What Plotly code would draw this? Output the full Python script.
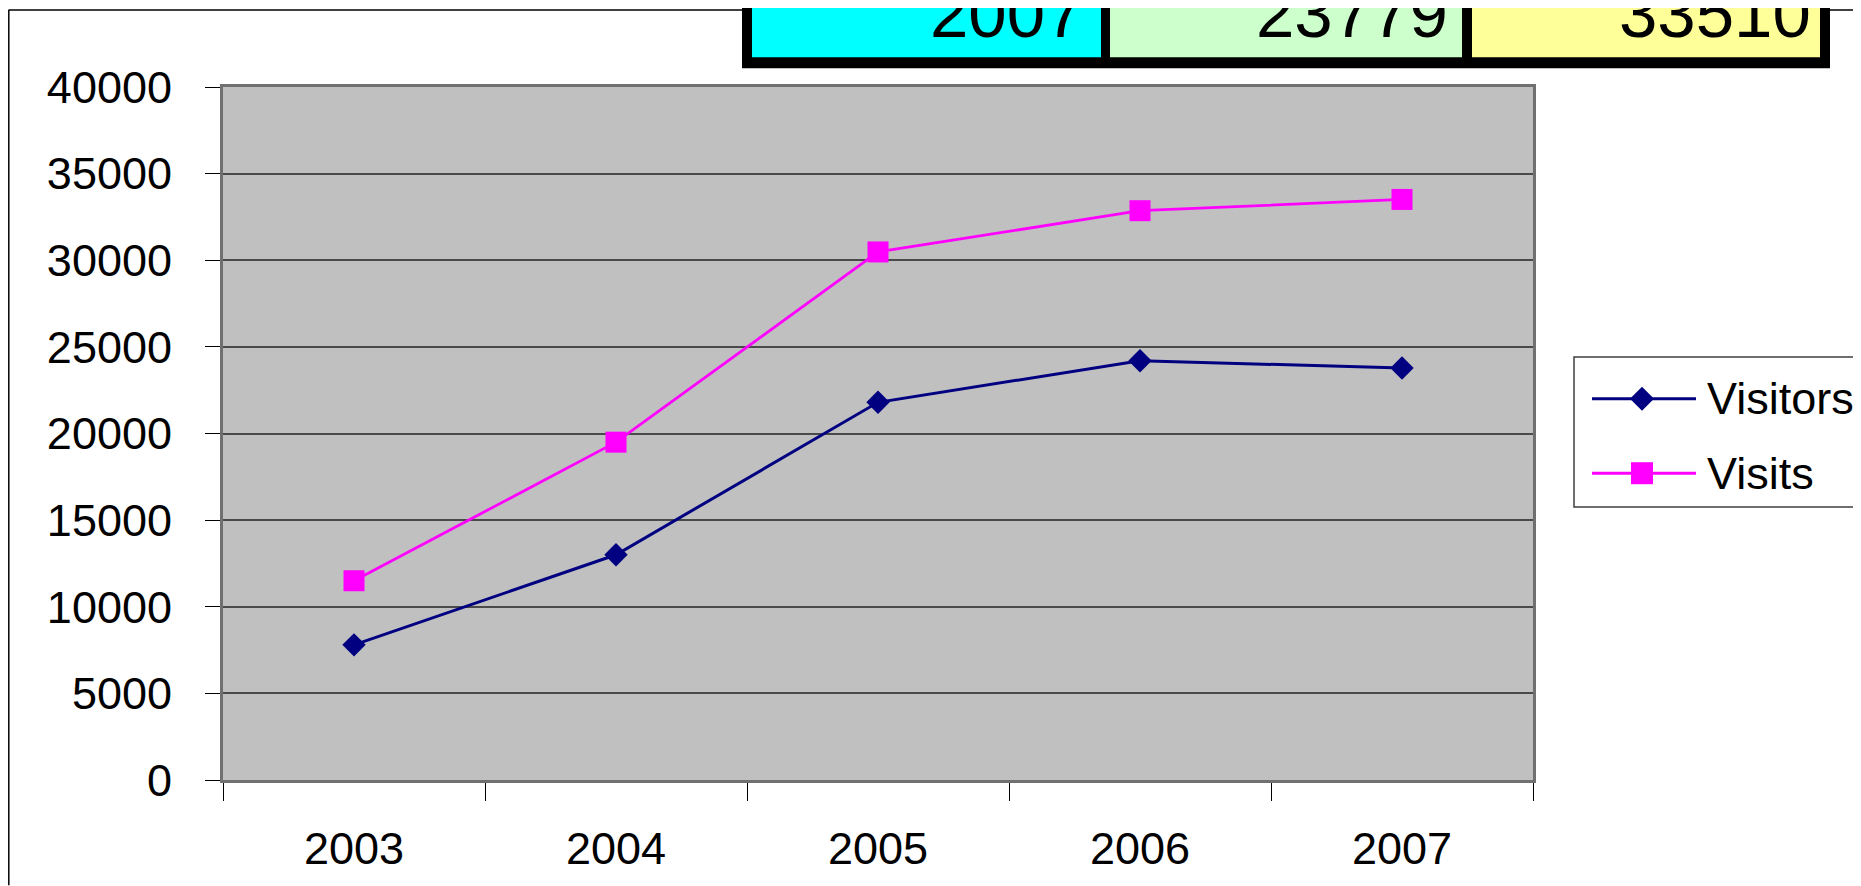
import plotly.graph_objects as go

# ---- data ----
years = ["2003", "2004", "2005", "2006", "2007"]
visitors = [7800, 13000, 21800, 24200, 23779]
visits = [11500, 19500, 30480, 32860, 33510]
series_names = ["Visitors", "Visits"]
y_ticks = [0, 5000, 10000, 15000, 20000, 25000, 30000, 35000, 40000]

# page offset of the figure (browser default body margin)
OFF = 8
PAGE_W, PAGE_H = 1861, 886
W, H = PAGE_W - OFF, PAGE_H - OFF
# plot area in page px
PL, PR, PT, PB = 223, 1533, 87, 785
L, R, T, B = PL - OFF, PR - OFF, PT - OFF, PB - OFF


def xp(px):  # page px -> paper
    return (px - PL) / (PR - PL)


def yp(py):
    return (PB - py) / (PB - PT)


FONT = "Liberation Sans, Arial, sans-serif"

fig = go.Figure()
fig.add_trace(go.Scatter(
    x=years, y=visitors, name=series_names[0], mode="lines+markers",
    line=dict(color="#000080", width=3),
    marker=dict(symbol="diamond", size=18, color="#000080"),
    showlegend=False, cliponaxis=False))
fig.add_trace(go.Scatter(
    x=years, y=visits, name=series_names[1], mode="lines+markers",
    line=dict(color="#FF00FF", width=2.8),
    marker=dict(symbol="square", size=21, color="#FF00FF"),
    showlegend=False, cliponaxis=False))

shapes = []
annotations = []

# outer chart frame (top and left edges)
shapes.append(dict(type="line", xref="paper", yref="paper",
                   x0=xp(8.5), x1=xp(PAGE_W + 5), y0=yp(9.5), y1=yp(9.5),
                   line=dict(color="black", width=1.5), layer="above"))
shapes.append(dict(type="line", xref="paper", yref="paper",
                   x0=xp(8.8), x1=xp(8.8), y0=yp(9.5), y1=yp(PAGE_H + 5),
                   line=dict(color="black", width=1.5), layer="above"))

# table strip at top
shapes.append(dict(type="rect", xref="paper", yref="paper",
                   x0=xp(742), x1=xp(1830), y0=yp(-30), y1=yp(68),
                   fillcolor="black", line=dict(width=0), layer="above"))
cells = [(752, 1101, "#00FFFF", years[-1], 1086),
         (1110, 1462, "#CCFFCC", str(visitors[-1]), 1450),
         (1472, 1820, "#FFFF99", str(visits[-1]), 1813)]
for x0, x1, col, txt, tr in cells:
    shapes.append(dict(type="rect", xref="paper", yref="paper",
                       x0=xp(x0), x1=xp(x1), y0=yp(-30), y1=yp(57),
                       fillcolor=col, line=dict(width=0), layer="above"))
    annotations.append(dict(xref="paper", yref="paper", x=xp(tr), y=yp(12.5),
                            xanchor="right", yanchor="middle", text=txt,
                            showarrow=False,
                            font=dict(family=FONT, size=69, color="black")))

# legend box
shapes.append(dict(type="rect", xref="paper", yref="paper",
                   x0=xp(1574), x1=xp(PAGE_W + 20), y0=yp(510), y1=yp(359),
                   fillcolor="white", line=dict(color="#404040", width=1.5),
                   layer="above"))
leg_rows = [(401, "#000080", "diamond"), (476, "#FF00FF", "square")]
for (ly, col, sym), name in zip(leg_rows, series_names):
    shapes.append(dict(type="line", xref="paper", yref="paper",
                       x0=xp(1592), x1=xp(1696), y0=yp(ly), y1=yp(ly),
                       line=dict(color=col, width=3), layer="above"))
    if sym == "square":
        shapes.append(dict(type="rect", xref="paper", yref="paper",
                           xsizemode="pixel", ysizemode="pixel",
                           xanchor=xp(1642), yanchor=yp(ly),
                           x0=-11, x1=11, y0=-11, y1=11,
                           fillcolor=col, line=dict(width=0), layer="above"))
    else:
        shapes.append(dict(type="path", xref="paper", yref="paper",
                           xsizemode="pixel", ysizemode="pixel",
                           xanchor=xp(1642), yanchor=yp(ly),
                           path="M0,12 L12,0 L0,-12 L-12,0 Z",
                           fillcolor=col, line=dict(width=0), layer="above"))
    annotations.append(dict(xref="paper", yref="paper", x=xp(1705), y=yp(ly),
                            xanchor="left", yanchor="middle", text=name,
                            showarrow=False,
                            font=dict(family=FONT, size=45, color="black")))

fig.update_layout(
    width=W, height=H,
    margin=dict(l=L, r=W - R, t=T, b=H - B, pad=0),
    paper_bgcolor="white", plot_bgcolor="#C0C0C0",
    showlegend=False,
    shapes=shapes, annotations=annotations,
    font=dict(family=FONT, size=45, color="black"),
)
fig.update_xaxes(
    type="category", range=[-0.5, 4.5],
    tickson="boundaries", ticks="outside", ticklen=18, tickwidth=1,
    tickcolor="black", ticklabelstandoff=27,
    showgrid=False, showline=True, mirror=True,
    linecolor="#707070", linewidth=3,
    tickfont=dict(family=FONT, size=45, color="black"),
)
fig.update_yaxes(
    range=[0, 40000], tickvals=y_ticks, tickformat="d",
    ticks="outside", ticklen=15, tickwidth=1, tickcolor="black",
    ticklabelstandoff=24,
    showgrid=True, gridcolor="#4a4a4a", gridwidth=1.6,
    zeroline=False, showline=True, mirror=True,
    linecolor="#707070", linewidth=3,
    tickfont=dict(family=FONT, size=45, color="black"),
)

fig.write_html("out.html")
